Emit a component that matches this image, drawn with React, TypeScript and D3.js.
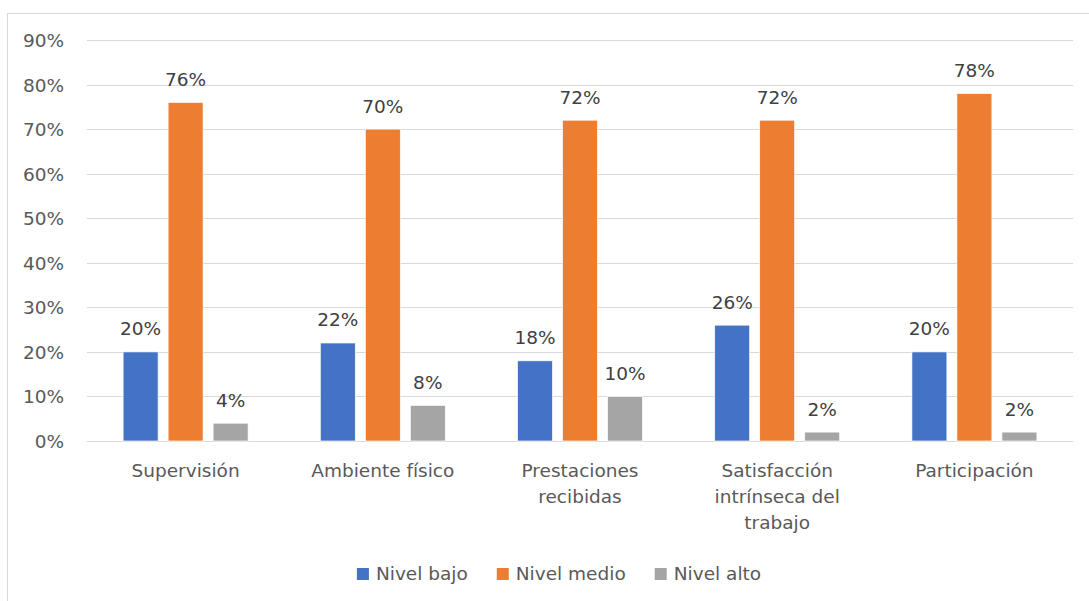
import React, { useEffect, useRef } from "react";
import * as d3 from "d3";

const categories = [
  "Supervisión",
  "Ambiente físico",
  "Prestaciones recibidas",
  "Satisfacción intrínseca del trabajo",
  "Participación",
];
const seriesNames = ["Nivel bajo", "Nivel medio", "Nivel alto"];
const seriesColors = ["#4472C4", "#ED7D31", "#A5A5A5"];
const nivelBajo = [0.2, 0.22, 0.18, 0.26, 0.2];
const nivelMedio = [0.76, 0.7, 0.72, 0.72, 0.78];
const nivelAlto = [0.04, 0.08, 0.1, 0.02, 0.02];
const yTicks = [0, 0.1, 0.2, 0.3, 0.4, 0.5, 0.6, 0.7, 0.8, 0.9];

const FONT = "'DejaVu Sans', sans-serif";
const FS = 18.5;

export default function App() {
  const ref = useRef<SVGSVGElement>(null);

  useEffect(() => {
    const svg = d3.select(ref.current);
    svg.selectAll("*").remove();
    const W = 1089, H = 601;
    const values = [nivelBajo, nivelMedio, nivelAlto];

    svg.append("rect").attr("width", W).attr("height", H).attr("fill", "#fff");
    svg
      .append("rect")
      .attr("x", 7.5)
      .attr("y", 13.5)
      .attr("width", W + 20)
      .attr("height", H + 20)
      .attr("fill", "none")
      .attr("stroke", "#d9d9d9")
      .attr("stroke-width", 1);

    const x0 = d3.scaleBand<string>().domain(categories).range([87, 1073]).padding(0);
    const y = d3.scaleLinear().domain([0, 0.9]).range([441, 40]);
    const groupW = 125;
    const x1 = d3
      .scaleBand<string>()
      .domain(seriesNames)
      .range([0, groupW])
      .paddingInner(10 / 45)
      .paddingOuter(0);

    // gridlines
    svg
      .append("g")
      .selectAll("line")
      .data(yTicks)
      .join("line")
      .attr("x1", 87)
      .attr("x2", 1073)
      .attr("y1", (d) => Math.round(y(d)) + 0.5)
      .attr("y2", (d) => Math.round(y(d)) + 0.5)
      .attr("stroke", "#d9d9d9")
      .attr("stroke-width", 1);

    // y tick labels
    svg
      .append("g")
      .selectAll("text")
      .data(yTicks)
      .join("text")
      .attr("x", 64)
      .attr("y", (d) => y(d) + 7)
      .attr("text-anchor", "end")
      .attr("font-family", FONT)
      .attr("font-size", FS)
      .attr("fill", "#595959")
      .text((d) => d3.format(".0%")(d));

    // bars
    seriesNames.forEach((s, si) => {
      const g = svg.append("g");
      g.selectAll("rect")
        .data(values[si])
        .join("rect")
        .attr("x", (d, i) => x0(categories[i])! + x0.bandwidth() / 2 - groupW / 2 + x1(s)!)
        .attr("y", (d) => y(d))
        .attr("width", x1.bandwidth())
        .attr("height", (d) => y(0) - y(d))
        .attr("fill", seriesColors[si])
        .attr("stroke", "#fff")
        .attr("stroke-width", 0.7);
      g.selectAll("text")
        .data(values[si])
        .join("text")
        .attr("x", (d, i) => x0(categories[i])! + x0.bandwidth() / 2 - groupW / 2 + x1(s)! + x1.bandwidth() / 2)
        .attr("y", (d) => y(d) - 16.5)
        .attr("text-anchor", "middle")
        .attr("font-family", FONT)
        .attr("font-size", FS)
        .attr("fill", "#404040")
        .text((d) => d3.format(".0%")(d));
    });

    // category labels with wrapping
    const maxW = 170;
    categories.forEach((c) => {
      const cx = x0(c)! + x0.bandwidth() / 2;
      const t = svg
        .append("text")
        .attr("text-anchor", "middle")
        .attr("font-family", FONT)
        .attr("font-size", FS)
        .attr("fill", "#595959");
      const words = c.split(" ");
      let lines: string[] = [];
      let cur: string[] = [];
      const probe = t.append("tspan");
      words.forEach((w) => {
        const test = [...cur, w].join(" ");
        probe.text(test);
        if ((probe.node() as SVGTSpanElement).getComputedTextLength() > maxW && cur.length) {
          lines.push(cur.join(" "));
          cur = [w];
        } else {
          cur.push(w);
        }
      });
      if (cur.length) lines.push(cur.join(" "));
      probe.remove();
      lines.forEach((l, li) => {
        t.append("tspan")
          .attr("x", cx)
          .attr("y", 477 + li * 26)
          .text(l);
      });
    });

    // legend
    const lg = svg.append("g");
    const items: { g: any; w: number }[] = [];
    seriesNames.forEach((s, si) => {
      const g = lg.append("g");
      g.append("rect")
        .attr("x", 0)
        .attr("y", -12)
        .attr("width", 12)
        .attr("height", 12)
        .attr("fill", seriesColors[si]);
      const tx = g
        .append("text")
        .attr("x", 19)
        .attr("y", 0)
        .attr("font-family", FONT)
        .attr("font-size", FS)
        .attr("fill", "#595959")
        .text(s);
      const w = 19 + (tx.node() as SVGTextElement).getComputedTextLength();
      items.push({ g, w });
    });
    const gap = 29;
    const total = d3.sum(items, (d) => d.w) + gap * (items.length - 1);
    let xs = 559 - total / 2;
    items.forEach((it) => {
      it.g.attr("transform", `translate(${xs},580)`);
      xs += it.w + gap;
    });
  }, []);

  return (
    <svg
      ref={ref}
      width={1089}
      height={601}
      style={{ position: "absolute", left: 0, top: 0, display: "block" }}
    />
  );
}
